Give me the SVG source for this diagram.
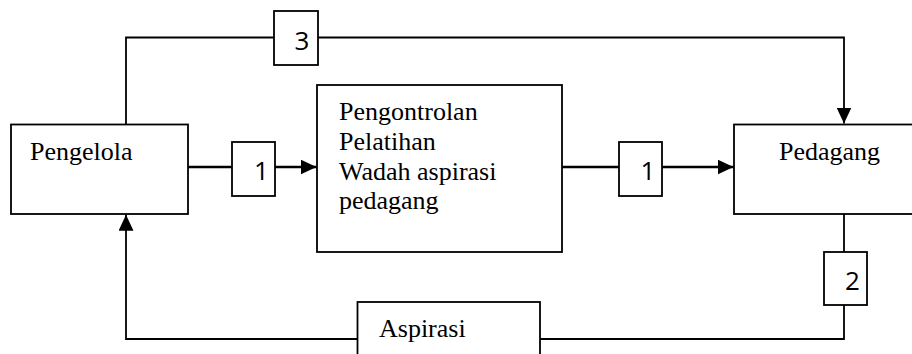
<svg xmlns="http://www.w3.org/2000/svg" width="912" height="354" viewBox="0 0 912 354">
  <style>
    .box { fill: #ffffff; stroke: #000000; stroke-width: 1.8; }
    .wire { fill: none; stroke: #000000; stroke-width: 1.8; }
    .wire.heavy { stroke-width: 2.4; }
    .txt { font-family: "Liberation Serif", "Times New Roman", serif; font-size: 26px; fill: #000000; }
    .num { font-family: "Open Sans", "Liberation Sans", sans-serif; font-size: 26px; fill: #000000; text-anchor: middle; }
  </style>
  <defs>
    <marker id="arrow" markerUnits="userSpaceOnUse" markerWidth="16" markerHeight="15" refX="16" refY="7.5" orient="auto">
      <path d="M0,0 L16,7.5 L0,15 z" fill="#000000"/>
    </marker>
  </defs>
  <rect width="912" height="354" fill="#ffffff"/>

  <!-- connectors -->
  <g id="connectors">
    <path class="wire" d="M126,124 V37.5 H844 V123.5" marker-end="url(#arrow)"/>
    <path class="wire heavy" d="M188,167 H316.5" marker-end="url(#arrow)"/>
    <path class="wire heavy" d="M562,167 H733.5" marker-end="url(#arrow)"/>
    <path class="wire" d="M844,214 V339 H126 V214.8" marker-end="url(#arrow)"/>
  </g>

  <!-- flow labels -->
  <g id="label-3">
    <rect class="box" x="274" y="11" width="44" height="54"/>
    <text class="num" x="302" y="50">3</text>
  </g>
  <g id="label-1a">
    <rect class="box" x="232" y="142" width="43" height="54"/>
    <text class="num" x="261.5" y="180">1</text>
  </g>
  <g id="label-1b">
    <rect class="box" x="619" y="142" width="43" height="54"/>
    <text class="num" x="648" y="180">1</text>
  </g>
  <g id="label-2">
    <rect class="box" x="824" y="252" width="43" height="53"/>
    <text class="num" x="852.5" y="290">2</text>
  </g>

  <!-- nodes -->
  <g id="pengelola">
    <rect class="box" x="11" y="124.5" width="177" height="89.5"/>
    <text class="txt" x="30" y="160">Pengelola</text>
  </g>
  <g id="program">
    <rect class="box" x="317" y="85" width="245" height="167"/>
    <text class="txt" x="339" y="120">Pengontrolan</text>
    <text class="txt" x="339" y="150">Pelatihan</text>
    <text class="txt" x="339" y="180">Wadah aspirasi</text>
    <text class="txt" x="339" y="209">pedagang</text>
  </g>
  <g id="pedagang">
    <rect class="box" x="734" y="124.5" width="190" height="89.5"/>
    <text class="txt" x="779" y="160">Pedagang</text>
  </g>
  <g id="aspirasi">
    <rect class="box" x="357.5" y="302" width="182.5" height="70"/>
    <text class="txt" x="379" y="337">Aspirasi</text>
  </g>
</svg>
